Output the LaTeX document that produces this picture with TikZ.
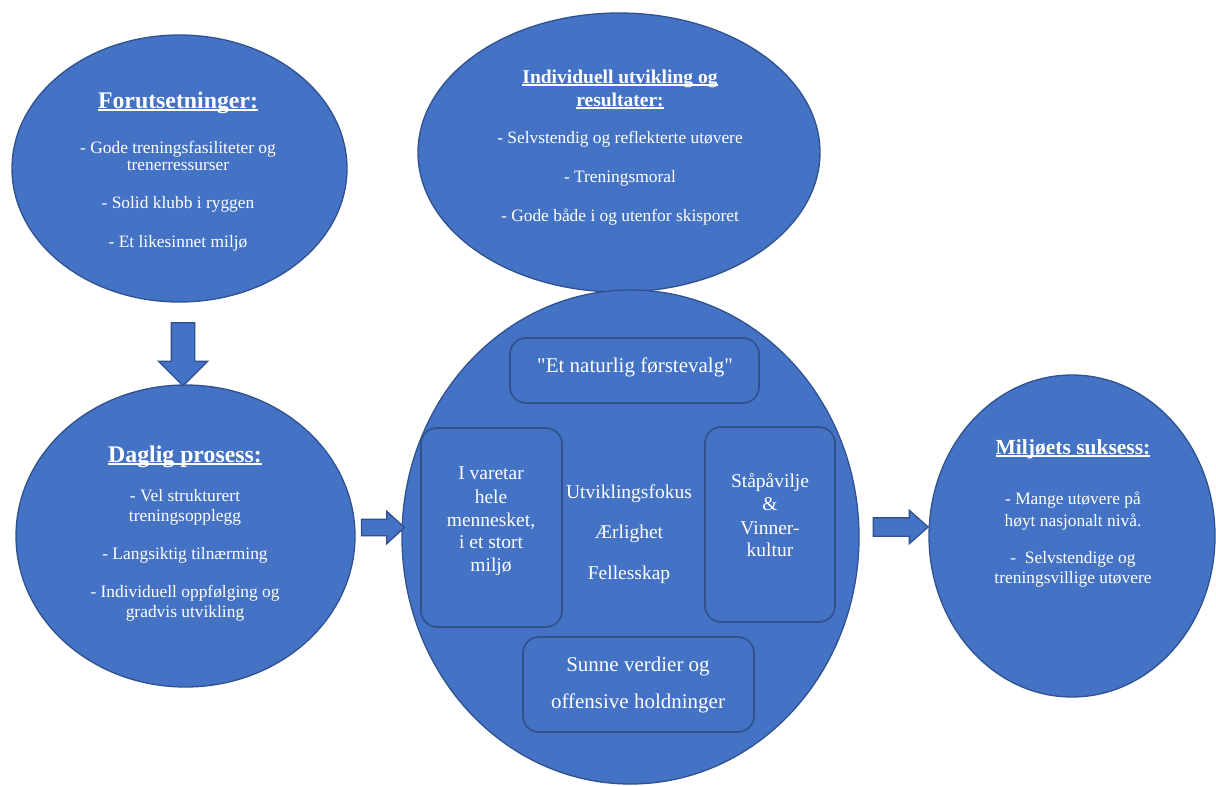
\documentclass[tikz,border=0pt]{standalone}
\usepackage{fontspec}
\setmainfont{Liberation Serif}[Ligatures=TeXOff]
\usetikzlibrary{shapes.geometric,shapes.arrows}
\definecolor{fillc}{HTML}{4472C4}
\definecolor{edgec}{HTML}{2F528F}
\newsavebox\myulbox
\newcommand\myul[1]{\sbox\myulbox{#1}\rlap{\rule[-2.6pt]{\wd\myulbox}{1.2pt}}\usebox\myulbox}
\tikzset{
  ell/.style={ellipse, draw=edgec, fill=fillc, line width=1.3pt, inner sep=0pt},
  rbox/.style={rectangle, rounded corners=16pt, draw=edgec, fill=fillc, line width=1.6pt, inner sep=0pt},
  barrow/.style={single arrow, draw=edgec, fill=fillc, line width=1.3pt, inner xsep=0pt, single arrow head indent=0pt},
  txt/.style={text=white, inner sep=0pt, anchor=base},
  body/.style={txt, font=\fontsize{17.4}{20}\selectfont},
  ttlA/.style={txt, font=\fontsize{23.8}{26}\selectfont\bfseries},
  ttlB/.style={txt, font=\fontsize{19.5}{22}\selectfont\bfseries},
  ttlC/.style={txt, font=\fontsize{21.5}{24}\selectfont\bfseries},
  big/.style={txt, font=\fontsize{21}{24}\selectfont},
  mid/.style={txt, font=\fontsize{19.5}{22}\selectfont},
}
\begin{document}
\begin{tikzpicture}[x=1pt,y=-1pt]
\useasboundingbox[fill=white] (0,0) rectangle (1216,785);
% ellipses
\node[ell, minimum width=335pt, minimum height=267pt] (e1) at (179.5,168.5) {};
\node[ell, minimum width=402pt, minimum height=279pt] (e2) at (619,152.5) {};
\node[ell, minimum width=339pt, minimum height=302pt] (e3) at (185.5,536) {};
\node[ell, minimum width=457pt, minimum height=494pt] (e5) at (630.5,537) {};
\node[ell, minimum width=286pt, minimum height=322pt] (e4) at (1072,536) {};
% arrows
\node[barrow, rotate=-90, minimum height=63pt, minimum width=48pt, inner ysep=11pt,
      single arrow head extend=13pt, single arrow tip angle=90] (a1) at (183,348.5) {};
\node[barrow, minimum height=43pt, minimum width=31pt, inner ysep=7.5pt,
      single arrow head extend=8pt, single arrow tip angle=85] (a2) at (378.5,527.5) {};
\node[barrow, minimum height=55pt, minimum width=32pt, inner ysep=8.5pt,
      single arrow head extend=7.5pt, single arrow tip angle=83] (a3) at (895.5,527) {};
% inner boxes
\node[rbox, minimum width=249pt, minimum height=65pt] (bt) at (634.5,370.5) {};
\node[rbox, minimum width=141pt, minimum height=199pt] (bl) at (491.5,527.5) {};
\node[rbox, minimum width=130pt, minimum height=195pt] (br) at (770,524.5) {};
\node[rbox, minimum width=231pt, minimum height=95pt] (bb) at (638.5,684.5) {};
% ellipse 1 text
\node[ttlA] (t1) at (178,108) {\myul{Forutsetninger:}};
\node[body] (t1a) at (178,153) {- Gode treningsfasiliteter og};
\node[body] (t1b) at (178,170) {trenerressurser};
\node[body] (t1c) at (178,208) {- Solid klubb i ryggen};
\node[body] (t1d) at (178,247) {- Et likesinnet miljø};
% ellipse 2 text
\node[ttlB] (t2) at (620,83) {\myul{Individuell utvikling og}};
\node[ttlB] (t2x) at (620,106) {\myul{resultater:}};
\node[body] (t2a) at (620,143) {- Selvstendig og reflekterte utøvere};
\node[body] (t2b) at (620,182) {- Treningsmoral};
\node[body] (t2c) at (620,221) {- Gode både i og utenfor skisporet};
% ellipse 3 text
\node[ttlA] (t3) at (185,462) {\myul{Daglig prosess:}};
\node[body] (t3a) at (185,501) {- Vel strukturert};
\node[body] (t3b) at (185,521) {treningsopplegg};
\node[body] (t3c) at (185,559) {- Langsiktig tilnærming};
\node[body] (t3d) at (185,597) {- Individuell oppfølging og};
\node[body] (t3e) at (185,617) {gradvis utvikling};
% ellipse 4 text
\node[ttlC] (t4) at (1073,454) {\myul{Miljøets suksess:}};
\node[body] (t4a) at (1073,504) {- Mange utøvere på};
\node[body] (t4b) at (1073,526) {høyt nasjonalt nivå.};
\node[body] (t4c) at (1073,563) {-\ \ Selvstendige og};
\node[body] (t4d) at (1073,583) {treningsvillige utøvere};
% centre ellipse text
\node[big] (c0) at (635,372) {"Et naturlig førstevalg"};
\node[mid] (l1) at (491,479) {I varetar};
\node[mid] (l2) at (491,503) {hele};
\node[mid] (l3) at (491,526) {mennesket,};
\node[mid] (l4) at (491,548) {i et stort};
\node[mid] (l5) at (491,571) {miljø};
\node[mid] (m1) at (629,498) {Utviklingsfokus};
\node[mid] (m2) at (629,538) {Ærlighet};
\node[mid] (m3) at (629,579) {Fellesskap};
\node[mid] (r1) at (770,487) {Ståpåvilje};
\node[mid] (r2) at (770,510) {\&};
\node[mid] (r3) at (770,534) {Vinner-};
\node[mid] (r4) at (770,556) {kultur};
\node[big] (s1) at (638,671) {Sunne verdier og};
\node[big] (s2) at (638,708) {offensive holdninger};
\end{tikzpicture}
\end{document}
